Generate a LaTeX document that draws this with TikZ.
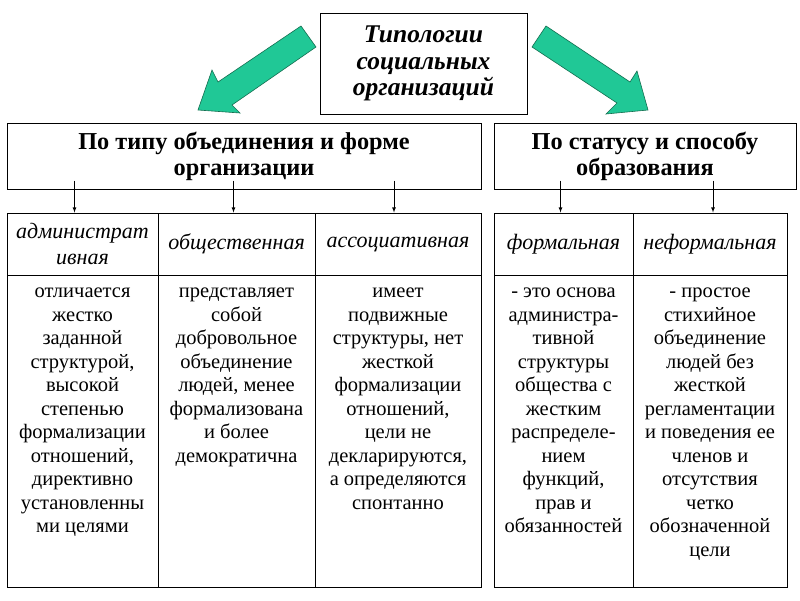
\documentclass[tikz,border=0pt]{standalone}
\usepackage{fontspec}
\setmainfont{Liberation Serif}
\usetikzlibrary{positioning}
\definecolor{arrowgreen}{RGB}{32,200,150}
\definecolor{arrowedge}{RGB}{20,110,80}

\tikzset{
  box/.style={draw, line width=1pt, inner sep=2pt, align=center},
  headtext/.style={font=\fontsize{24.3}{26}\selectfont\bfseries},
  kindtext/.style={font=\fontsize{22}{26}\selectfont\itshape},
  bodytext/.style={font=\fontsize{20.5}{23.5}\selectfont, align=center, anchor=north, inner sep=0pt},
  bigarrow/.style={fill=arrowgreen, draw=arrowedge, line width=0.6pt},
  pointer/.style={-latex, line width=0.8pt},
}

\begin{document}
\begin{tikzpicture}[x=1pt,y=-1pt]
	\useasboundingbox (0,0) rectangle (800,600);

	% title
	\node[box, minimum width=207, minimum height=101, font=\fontsize{25.5}{26.5}\selectfont\bfseries\itshape] (title) at (423.5,63.5) {Типологии\\социальных\\организаций};

	% green arrows
	\draw[bigarrow] (301,26) -- (316,47) -- (232,105) -- (240,113) -- (198,110) -- (212,70) -- (218,82) -- cycle;
	\draw[bigarrow] (546,26) -- (532,47) -- (617,103) -- (606,114) -- (648,110) -- (637,71) -- (630,82) -- cycle;

	% two criteria
	\node[box, headtext, minimum width=474, minimum height=66] (typeL) at (244,156) {По типу объединения и форме\\организации};
	\node[box, headtext, minimum width=302, minimum height=66] (typeR) at (645,156) {По статусу и способу\\образования};

	% kinds
	\node[box, kindtext, minimum width=151, minimum height=62] (kindA) at (82.5,244) {администрат\\ивная};
	\node[box, kindtext, minimum width=157, minimum height=62] (kindB) at (236.5,244) {общественная};
	\node[box, kindtext, minimum width=166, minimum height=62] (kindC) at (398,244) {ассоциативная};
	\node[box, kindtext, minimum width=139, minimum height=62] (kindD) at (563.5,244) {формальная};
	\node[box, kindtext, minimum width=154, minimum height=62] (kindE) at (710,244) {неформальная};

	% cells below
	\node[box, minimum width=151, minimum height=312, anchor=north] (cellA) at (82.5,275) {};
	\node[box, minimum width=157, minimum height=312, anchor=north] (cellB) at (236.5,275) {};
	\node[box, minimum width=166, minimum height=312, anchor=north] (cellC) at (398,275) {};
	\node[box, minimum width=139, minimum height=312, anchor=north] (cellD) at (563.5,275) {};
	\node[box, minimum width=154, minimum height=312, anchor=north] (cellE) at (710,275) {};

	\node[bodytext] (textA) at ([yshift=-6pt]cellA.north) {\strut отличается\\жестко\\заданной\\структурой,\\высокой\\степенью\\формализации\\отношений,\\директивно\\установленны\\ми целями};
	\node[bodytext] (textB) at ([yshift=-6pt]cellB.north) {\strut представляет\\собой\\добровольное\\объединение\\людей, менее\\формализована\\и более\\демократична};
	\node[bodytext] (textC) at ([yshift=-6pt]cellC.north) {\strut имеет\\подвижные\\структуры, нет\\жесткой\\формализации\\отношений,\\цели не\\декларируются,\\а определяются\\спонтанно};
	\node[bodytext] (textD) at ([yshift=-6pt]cellD.north) {\strut - это основа\\администра-\\тивной\\структуры\\общества с\\жестким\\распределе-\\нием\\функций,\\прав и\\обязанностей};
	\node[bodytext] (textE) at ([yshift=-6pt]cellE.north) {\strut - простое\\стихийное\\объединение\\людей без\\жесткой\\регламентации\\и поведения ее\\членов и\\отсутствия\\четко\\обозначенной\\цели};

	% small arrows
	\draw[pointer] ([xshift=-8pt,yshift=9pt]typeL.south -| kindA.north) -- ([xshift=-8pt]kindA.north);
	\draw[pointer] ([xshift=-3pt,yshift=9pt]typeL.south -| kindB.north) -- ([xshift=-3pt]kindB.north);
	\draw[pointer] ([xshift=-4pt,yshift=9pt]typeL.south -| kindC.north) -- ([xshift=-4pt]kindC.north);
	\draw[pointer] ([xshift=-3pt,yshift=9pt]typeR.south -| kindD.north) -- ([xshift=-3pt]kindD.north);
	\draw[pointer] ([xshift=3pt,yshift=9pt]typeR.south -| kindE.north) -- ([xshift=3pt]kindE.north);

\end{tikzpicture}
\end{document}
